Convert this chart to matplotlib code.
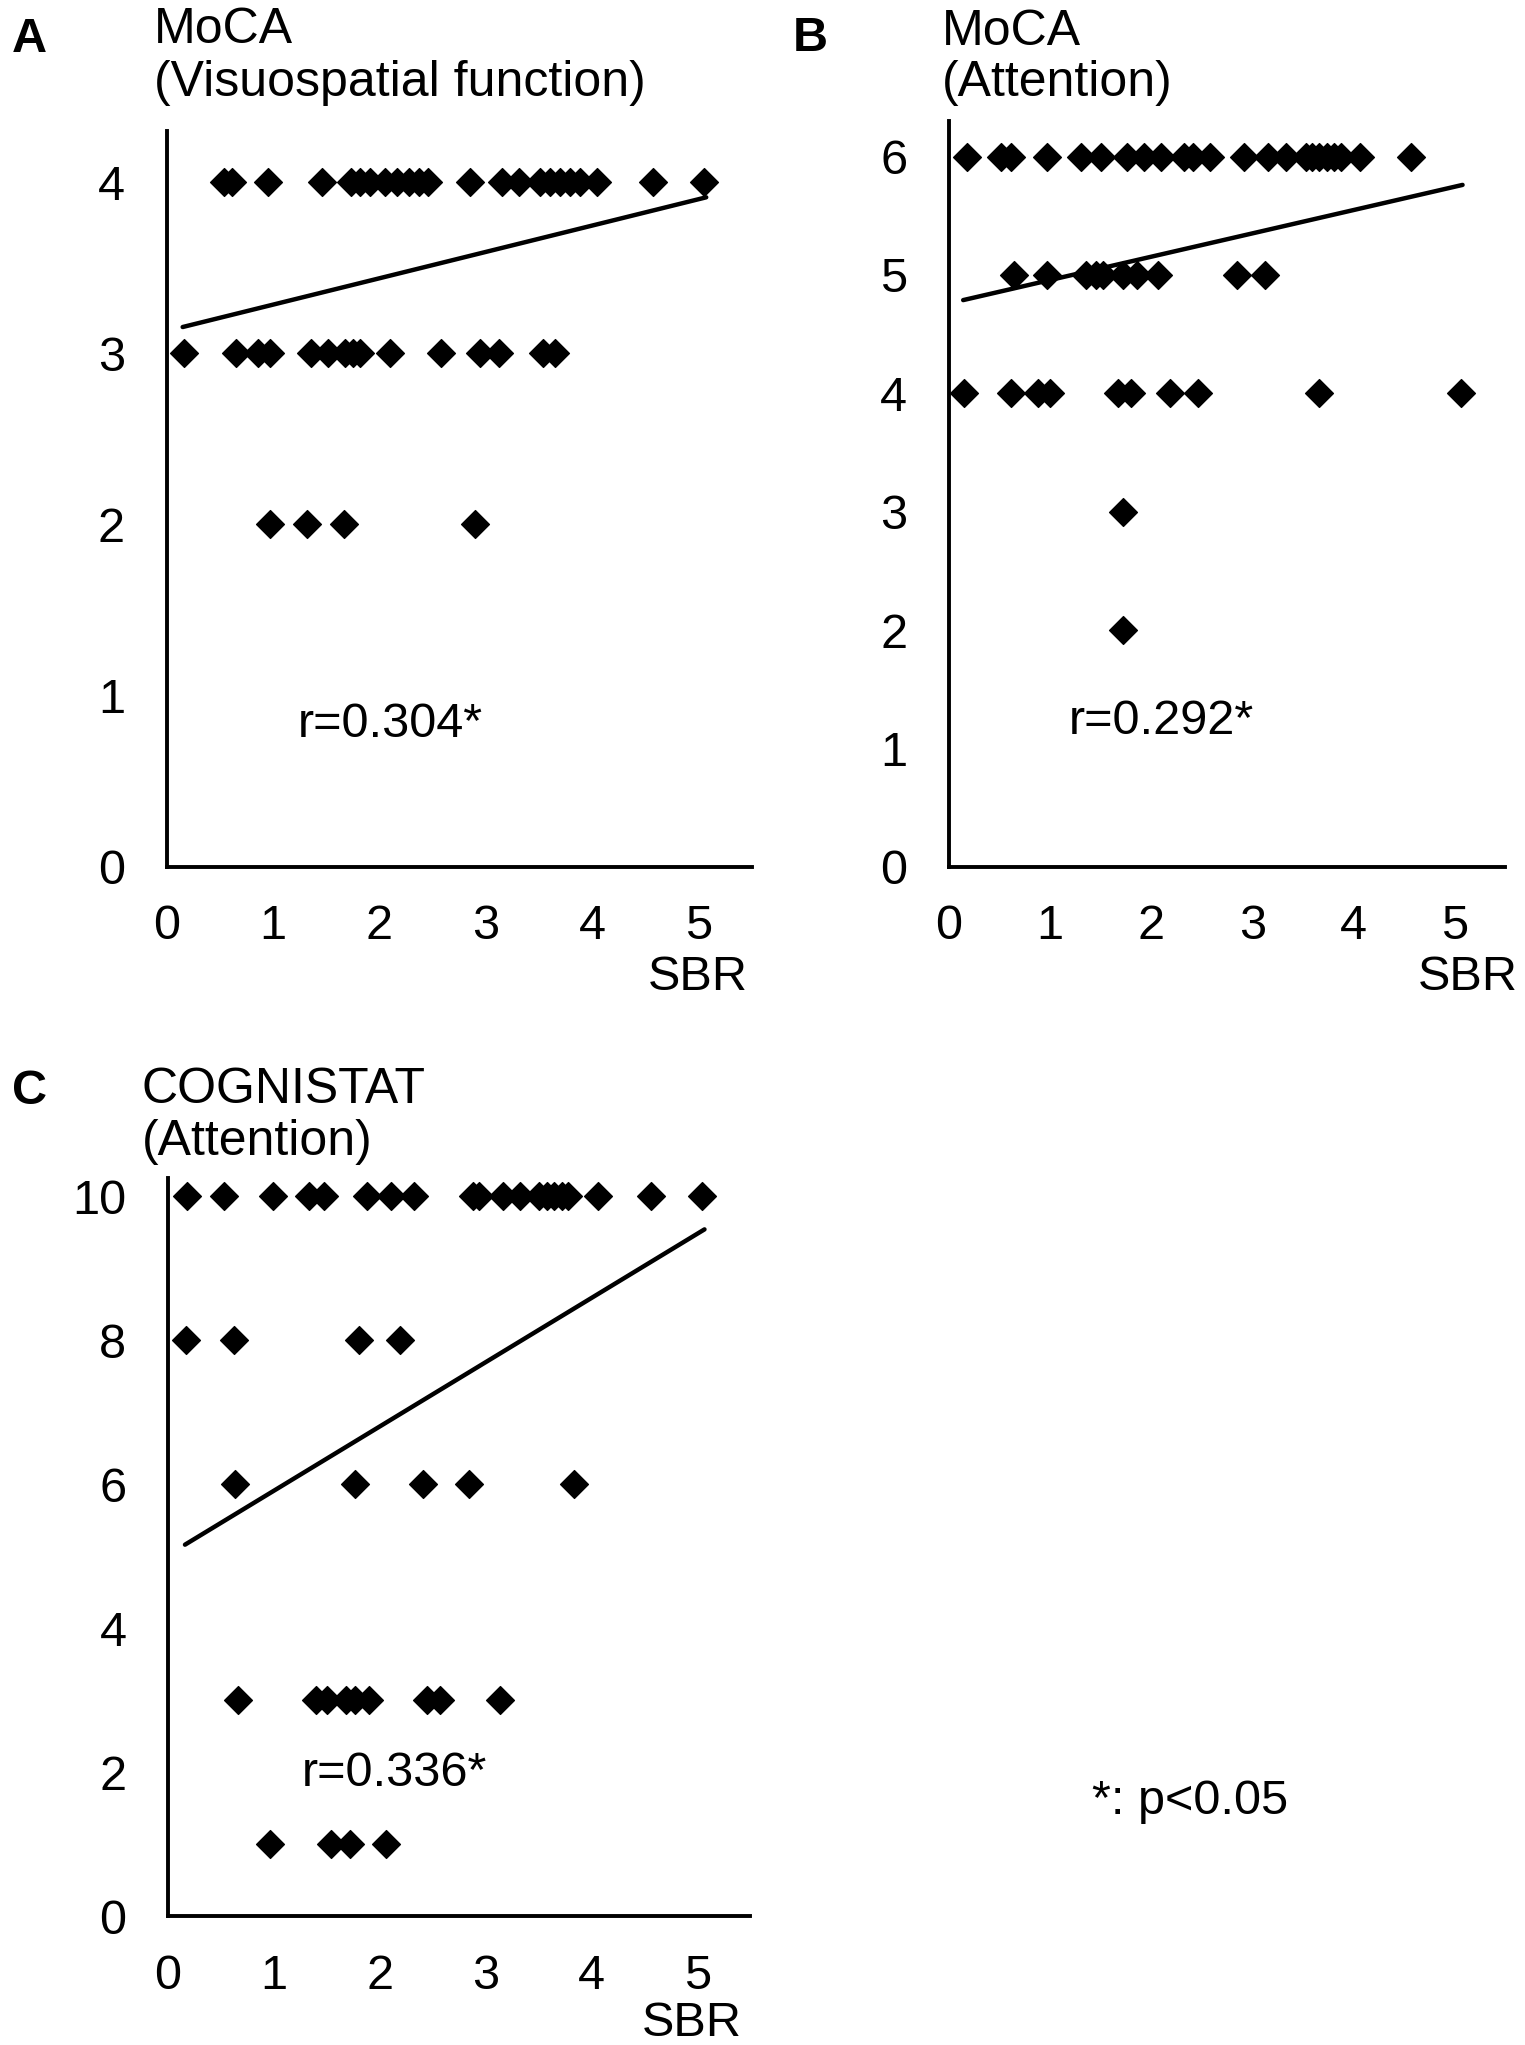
import numpy as np
import matplotlib.pyplot as plt
from matplotlib.path import Path

plt.rcParams['font.family'] = ['Liberation Sans', 'DejaVu Sans']

# Panel A - MoCA visuospatial
a_x4 = [0.54, 0.61, 0.95, 1.46, 1.73, 1.82, 1.91, 2.05, 2.16, 2.28, 2.37, 2.46,
        2.85, 3.15, 3.31, 3.51, 3.60, 3.70, 3.79, 3.88, 4.04, 4.57, 5.05]
a_x3 = [0.16, 0.65, 0.86, 0.97, 1.36, 1.52, 1.68, 1.75, 1.82, 2.10, 2.58, 2.94,
        3.12, 3.54, 3.65]
a_x2 = [0.97, 1.32, 1.67, 2.90]
a_fit = [3.13, 0.154]   # intercept, slope

# Panel B - MoCA attention
b_x6 = [0.18, 0.51, 0.61, 0.97, 1.31, 1.50, 1.76, 1.93, 2.10, 2.32, 2.41, 2.58,
        2.92, 3.16, 3.33, 3.53, 3.59, 3.66, 3.74, 3.81, 3.88, 4.07, 4.57]
b_x5 = [0.64, 0.97, 1.36, 1.45, 1.52, 1.72, 1.86, 2.07, 2.85, 3.13]
b_x4 = [0.15, 0.61, 0.88, 1.00, 1.67, 1.80, 2.19, 2.46, 3.66, 5.06]
b_x3 = [1.72]
b_x2 = [1.72]
b_fit = [4.76, 0.197]

# Panel C - COGNISTAT attention
c_x10 = [0.18, 0.53, 0.99, 1.33, 1.47, 1.88, 2.11, 2.32, 2.88, 2.94, 3.17, 3.33,
         3.51, 3.58, 3.65, 3.72, 3.78, 4.06, 4.56, 5.05]
c_x8 = [0.17, 0.62, 1.80, 2.19]
c_x6 = [0.63, 1.77, 2.41, 2.84, 3.84]
c_x3 = [0.66, 1.40, 1.50, 1.68, 1.77, 1.90, 2.45, 2.57, 3.14]
c_x1 = [0.96, 1.54, 1.72, 2.06]
c_fit = [5.02, 0.892]

W, H = 1525, 2045
fig = plt.figure(figsize=(W / 100, H / 100), dpi=100)

# square diamond marker
diamond = Path([(-1, 0), (0, 1), (1, 0), (0, -1), (-1, 0)],
               [Path.MOVETO, Path.LINETO, Path.LINETO, Path.LINETO, Path.CLOSEPOLY])


def px(x, y):
    return x / W, 1 - y / H


def panel(rect, groups, fit, ylim, yticks, rpos, rtext):
    ax = fig.add_axes(rect)
    allx = []
    for yv, xs in groups:
        ax.plot(xs, [yv] * len(xs), linestyle='none', marker=diamond,
                markersize=20, color='black', clip_on=False)
        allx += xs
    xl = np.array([min(allx) - 0.01, max(allx) + 0.02])
    ax.plot(xl, fit[0] + fit[1] * xl, color='black', lw=3.2,
            solid_capstyle='round', clip_on=False)
    ax.set_xlim(0, 5.5)
    ax.set_ylim(*ylim)
    ax.set_xticks(range(6))
    ax.set_yticks(yticks)
    for s in ['top', 'right']:
        ax.spines[s].set_visible(False)
    for s in ['left', 'bottom']:
        ax.spines[s].set_linewidth(2.8)
    ax.tick_params(length=0, labelsize=35)
    ax.tick_params(axis='x', pad=27)
    ax.tick_params(axis='y', pad=30)
    ax.text(rpos[0], rpos[1], rtext, fontsize=35, va='baseline')
    return ax


panel([0.1093, 0.5761, 0.3838, 0.3600],
      [(4, a_x4), (3, a_x3), (2, a_x2)], a_fit, (0, 4.3), range(5),
      (1.23, 0.76), 'r=0.304*')
panel([0.6223, 0.5761, 0.3646, 0.3647],
      [(6, b_x6), (5, b_x5), (4, b_x4), (3, b_x3), (2, b_x2)], b_fit, (0, 6.3),
      range(7), (1.18, 1.12), 'r=0.292*')
panel([0.1102, 0.0629, 0.3816, 0.3612],
      [(10, c_x10), (8, c_x8), (6, c_x6), (3, c_x3), (1, c_x1)], c_fit,
      (0, 10.26), range(0, 11, 2), (1.26, 1.81), 'r=0.336*')

# panel letters
for (x, y), lab in [((12, 52), 'A'), ((793, 51), 'B'), ((12, 1104), 'C')]:
    fig.text(*px(x, y), lab, fontsize=35, fontweight='bold', va='baseline')

# y titles
titles = [((154, 43), 'MoCA'), ((154, 96), '(Visuospatial function)'),
          ((942, 45), 'MoCA'), ((942, 96), '(Attention)'),
          ((142, 1103), 'COGNISTAT'), ((142, 1155), '(Attention)')]
for (x, y), t in titles:
    fig.text(*px(x, y), t, fontsize=36, va='baseline')

# x axis name
for x, y in [(748, 990), (1518, 990), (742, 2036)]:
    fig.text(*px(x, y), 'SBR', fontsize=35, ha='right', va='baseline')

fig.text(*px(1092, 1802), '*: p<0.05', fontsize=35, va='center')

fig.savefig('out.png', dpi=100)
